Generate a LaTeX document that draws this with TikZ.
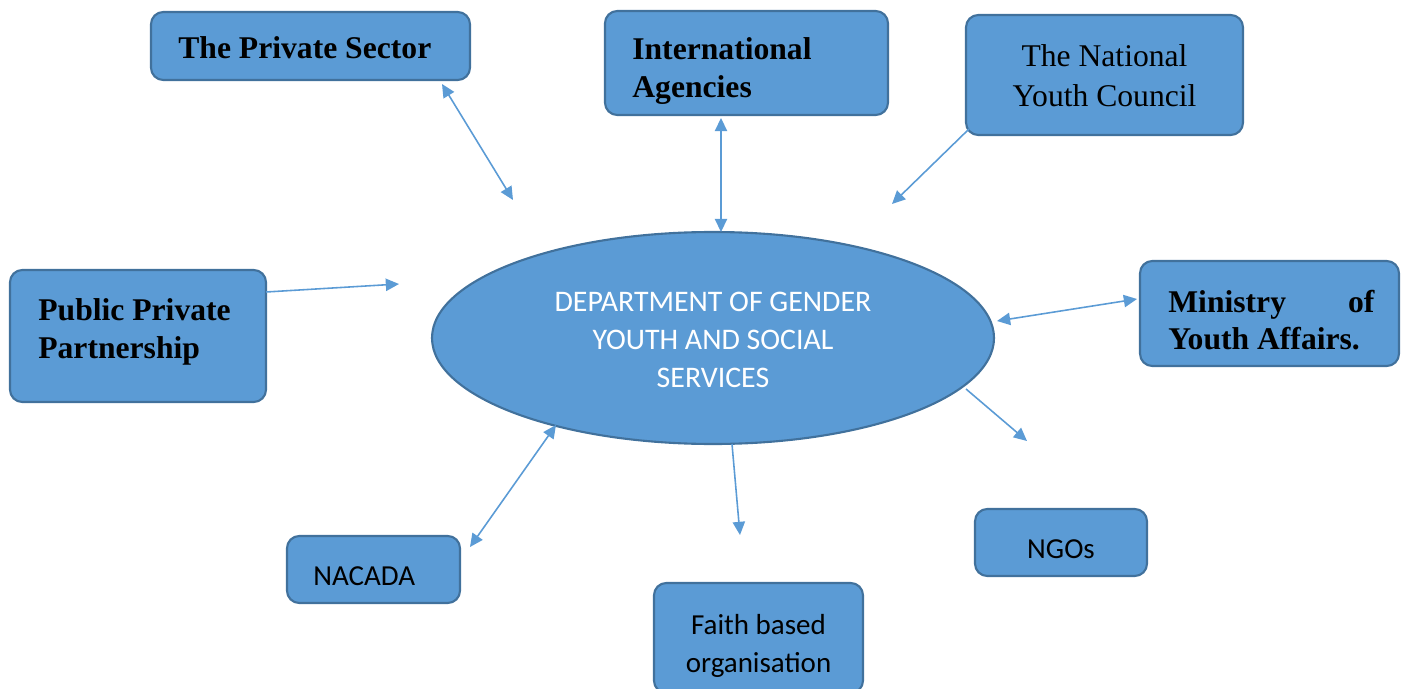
\documentclass[tikz,border=0pt]{standalone}
\usepackage{fontspec}
\setmainfont{Liberation Serif}
\newfontfamily\calib{Carlito}
\usetikzlibrary{arrows.meta,shapes.geometric}
\definecolor{boxfill}{HTML}{5B9BD5}
\definecolor{boxline}{HTML}{41719C}
\definecolor{arrowc}{HTML}{5B9BD5}
\newdimen\pxu \pxu=0.02cm
\tikzset{
  boxst/.style={draw=boxline, fill=boxfill, line width=1.2pt, rounded corners=7pt, inner sep=0pt},
  boldtxt/.style={font=\fontsize{18}{21.2}\selectfont\bfseries, text=black, inner sep=0pt},
  serftxt/.style={font=\fontsize{18}{22.7}\selectfont, text=black, inner sep=0pt},
  sanstxt/.style={font=\calib\fontsize{16.5}{21.7}\selectfont, text=black, inner sep=0pt},
  conn/.style={draw=arrowc, line width=0.9pt},
  tip/.tip={Triangle[length=7.5pt,width=7pt]},
  oneway/.style={conn, -tip},
  twoway/.style={conn, tip-tip},
}
\begin{document}
\begin{tikzpicture}[x=0.02cm,y=-0.02cm]
\useasboundingbox (0,0) rectangle (1406,689);
% boxes
\node[boxst, minimum width=319*\pxu, minimum height=68*\pxu] (ps) at (310.5,46) {};
\node[boldtxt, anchor=west] at (178,48) {The Private Sector};

\node[boxst, minimum width=283*\pxu, minimum height=104*\pxu] (ia) at (746.5,63) {};
\node[boldtxt, anchor=west, align=left] at (632,71) {International\\Agencies};

\node[boxst, minimum width=277*\pxu, minimum height=120*\pxu] (nyc) at (1104.5,75) {};
\node[serftxt, align=center] at (1104.5,76) {The National\\Youth Council};

\node[boxst, minimum width=256*\pxu, minimum height=132*\pxu] (ppp) at (138,336) {};
\node[boldtxt, anchor=west, align=left] at (38,332) {Public Private\\Partnership};

\node[boxst, minimum width=259*\pxu, minimum height=105*\pxu] (min) at (1269.5,313.5) {};
\node[boldtxt, anchor=west, align=left] at (1168,320) {\makebox[206\pxu][s]{Ministry\hfill of}\\Youth Affairs.};

\node[boxst, minimum width=173*\pxu, minimum height=67*\pxu] (nac) at (373.5,569.5) {};
\node[sanstxt, anchor=west] at (313,576) {NACADA};

\node[boxst, minimum width=209*\pxu, minimum height=110*\pxu] (fbo) at (758.5,638) {};
\node[sanstxt, align=center] at (758.5,646) {Faith based\\organisation};

\node[boxst, minimum width=172*\pxu, minimum height=67*\pxu] (ngo) at (1061,542.5) {};
\node[sanstxt] at (1061,549) {NGOs};

% central ellipse
\node[ellipse, draw=boxline, fill=boxfill, line width=1.2pt, minimum width=562*\pxu, minimum height=212*\pxu, inner sep=0pt] (dept) at (713,338) {};
\node[font=\calib\fontsize{17}{21.8}\selectfont, text=white, align=center, inner sep=0pt] at (713,340) {DEPARTMENT OF GENDER\\YOUTH AND SOCIAL\\SERVICES};

% connector end points
\coordinate (psA) at (442,84);
\coordinate (psB) at (513,200);
\coordinate (iaA) at (721,118);
\coordinate (iaB) at (721,232);
\coordinate (nycA) at (969,129);
\coordinate (nycB) at (892,204);
\coordinate (pppA) at (266,292);
\coordinate (pppB) at (399,284);
\coordinate (minA) at (997,321);
\coordinate (minB) at (1137,299);
\coordinate (ngoA) at (966,389);
\coordinate (ngoB) at (1027,441);
\coordinate (fboA) at (732,444);
\coordinate (fboB) at (740,535);
\coordinate (nacA) at (470,547);
\coordinate (nacB) at (556,425);

\draw[twoway] (psA) -- (psB);
\draw[twoway] (iaA) -- (iaB);
\draw[oneway] (nycA) -- (nycB);
\draw[oneway] (pppA) -- (pppB);
\draw[twoway] (minA) -- (minB);
\draw[oneway] (ngoA) -- (ngoB);
\draw[oneway] (fboA) -- (fboB);
\draw[twoway] (nacA) -- (nacB);
\end{tikzpicture}
\end{document}
